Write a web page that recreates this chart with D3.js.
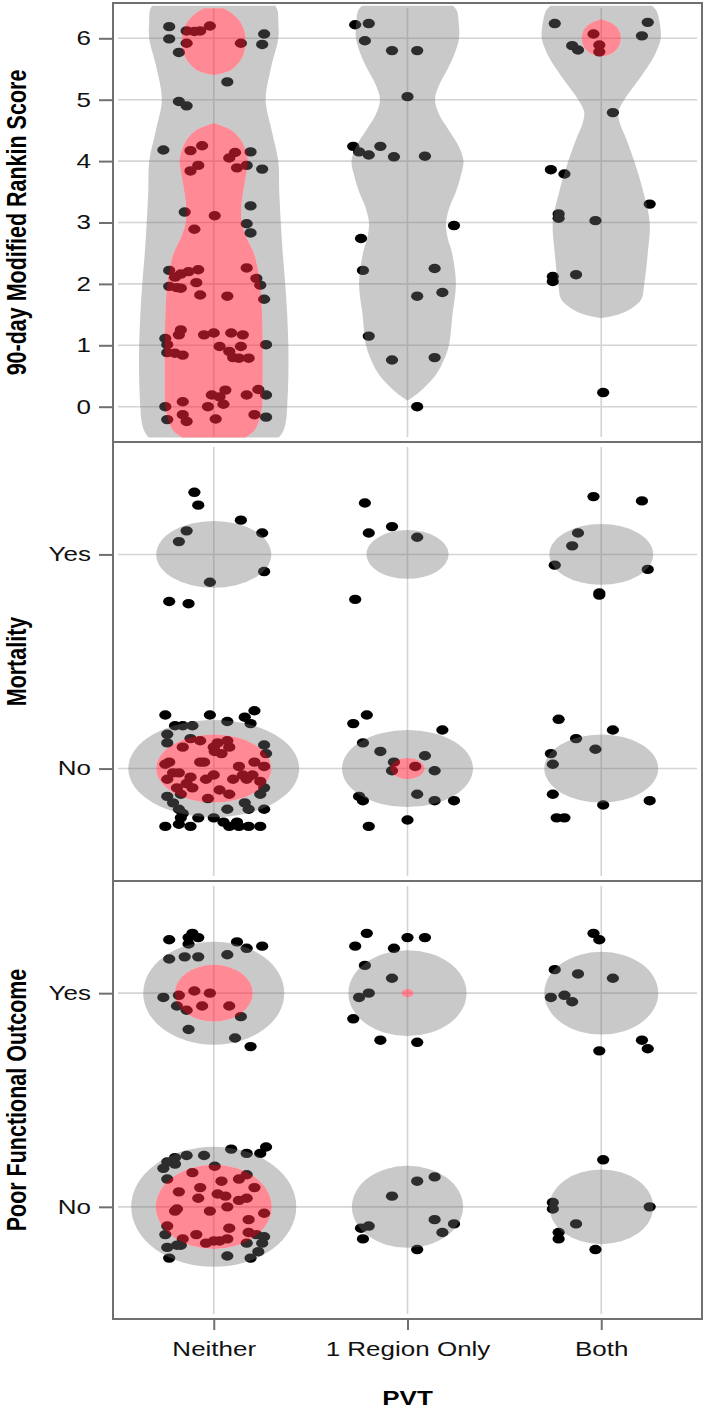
<!DOCTYPE html>
<html>
<head>
<meta charset="utf-8">
<script src="https://cdn.jsdelivr.net/npm/d3@7"></script>
<style>
  body { margin: 0; background: #fff; }
  text { font-family: "Liberation Sans", Arial, Helvetica, sans-serif; }
</style>
</head>
<body>
<div id="chart"></div>
<script>
const categories = ['Neither', '1 Region Only', 'Both'];
const rankinTicks = [0, 1, 2, 3, 4, 5, 6];
const binaryTicks = [0, 1];
const binaryLabels = ['No', 'Yes'];
const panelTitles = ['90-day Modified Rankin Score', 'Mortality', 'Poor Functional Outcome'];
const xTitle = 'PVT';

// violin outlines: [score, half width in category units]
const grayNeither = [[6.53,0.318],[6.45,0.330],[6.3,0.333],[6.0,0.333],[5.5,0.294],[5.0,0.268],[4.5,0.299],[4.0,0.333],[3.5,0.338],
  [3.0,0.346],[2.5,0.356],[2.0,0.369],[1.5,0.379],[1.0,0.385],[0.5,0.385],[0.0,0.379],[-0.25,0.372],[-0.42,0.355],[-0.5,0.335]];
const grayRegion = [[6.53,0.235],[6.45,0.255],[6.3,0.263],[6.0,0.266],[5.75,0.243],[5.5,0.207],[5.25,0.165],[5.0,0.142],[4.75,0.165],
  [4.5,0.214],[4.25,0.263],[4.0,0.289],[3.75,0.274],[3.5,0.250],[3.25,0.217],[3.0,0.199],[2.75,0.207],[2.5,0.230],
  [2.0,0.250],[1.5,0.232],[1.0,0.214],[0.75,0.186],[0.5,0.142],[0.3,0.083],[0.2,0.046],[0.1,0]];
const grayBoth = [[6.53,0.262],[6.45,0.285],[6.3,0.299],[6.0,0.307],[5.75,0.279],[5.5,0.232],[5.25,0.176],[5.0,0.119],[4.8,0.088],
  [4.6,0.098],[4.4,0.124],[4.0,0.170],[3.5,0.217],[3.0,0.250],[2.5,0.240],[2.0,0.222],[1.75,0.207],[1.6,0.155],[1.5,0.088],[1.44,0]];
const redNeitherTop = [[6.49,0.052],[6.42,0.088],[6.3,0.129],[6.15,0.155],[5.95,0.165],[5.75,0.155],[5.6,0.129],[5.48,0.088],[5.4,0]];
const redNeitherLow = [[4.62,0],[4.5,0.093],[4.35,0.139],[4.15,0.168],[4.0,0.176],[3.75,0.165],[3.5,0.152],[3.25,0.142],
  [3.0,0.145],[2.75,0.170],[2.5,0.207],[2.25,0.227],[2.0,0.240],[1.5,0.250],[1.0,0.253],[0.5,0.253],[0.0,0.250],
  [-0.25,0.232],[-0.4,0.207],[-0.5,0.165]];
const redBoth = [[6.31,0],[6.25,0.052],[6.15,0.088],[6.0,0.101],[5.85,0.088],[5.75,0.052],[5.7,0]];

// ellipses: [category, value, half width, half height]
const mortalityGray = [[0,1,0.297,0.156],[0,0,0.441,0.227],[1,1,0.212,0.114],[1,0,0.338,0.180],[2,1,0.268,0.142],[2,0,0.294,0.159]];
const mortalityRed = [[0,0,0.297,0.159],[1,0,0.088,0.049]];
const outcomeGray = [[0,1,0.364,0.241],[0,0,0.426,0.281],[1,1,0.305,0.201],[1,0,0.287,0.192],[2,1,0.294,0.194],[2,0,0.268,0.175]];
const outcomeRed = [[0,1,0.201,0.133],[0,0,0.299,0.197],[1,1,0.031,0.019]];

// jittered points: [category position, value]
const rankinDots = [
  [-0.23,6.19],[-0.23,5.99],[-0.18,5.77],[-0.14,6.12],[-0.10,6.11],[-0.07,6.12],[-0.02,6.20],[-0.14,5.92],[0.14,5.92],
  [0.07,5.29],[0.26,6.07],[0.25,5.90],[-0.18,4.97],[-0.14,4.90],
  [-0.26,4.18],[-0.12,4.17],[-0.06,4.25],[-0.12,3.84],[-0.08,3.93],[0.08,4.05],[0.11,4.14],[0.12,3.89],[0.17,3.93],[0.19,4.15],[0.25,3.87],
  [-0.15,3.17],[0.005,3.11],[-0.10,2.89],[0.17,2.98],[0.19,3.27],[0.19,2.83],
  [-0.23,2.22],[-0.20,2.11],[-0.17,2.16],[-0.13,2.20],[-0.08,2.23],[-0.23,1.96],[-0.19,1.94],[-0.17,1.93],[-0.09,2.02],
  [-0.07,1.82],[0.07,1.80],[0.17,2.26],[0.22,2.09],[0.24,1.98],[0.26,1.75],
  [-0.25,1.11],[-0.24,1.01],[-0.24,0.88],[-0.17,1.25],[-0.18,1.17],[-0.05,1.17],[0,1.20],[0.03,0.98],[0.09,1.20],[0.15,1.17],
  [0.14,0.98],[0.08,0.90],[0.10,0.80],[0.13,0.79],[0.18,0.79],[-0.20,0.87],[-0.16,0.84],[0.27,1.01],
  [-0.25,0],[-0.24,-0.21],[-0.16,0.08],[-0.16,-0.13],[-0.14,-0.24],[-0.03,0],[0.01,-0.20],[-0.01,0.19],[0.03,0.16],
  [0.06,0.27],[0.05,0.04],[0.17,0.19],[0.23,0.28],[0.21,-0.13],[0.27,0.19],[0.27,-0.17],
  [0.73,6.22],[0.80,6.24],[0.78,5.96],[0.92,5.80],[1.05,5.80],[1.00,5.05],[0.72,4.24],[0.75,4.15],[0.80,4.10],[0.86,4.24],
  [0.93,4.07],[1.09,4.08],[1.24,2.95],[0.76,2.74],[0.77,2.22],[1.14,2.25],[1.05,1.80],[1.18,1.86],[0.80,1.15],[0.92,0.76],
  [1.14,0.80],[1.05,0.00],
  [1.76,6.24],[2.24,6.26],[2.21,6.04],[1.96,6.07],[1.99,5.89],[1.99,5.78],[1.85,5.88],[1.88,5.81],[2.06,4.79],[1.74,3.86],
  [1.81,3.79],[2.25,3.30],[1.78,3.14],[1.78,3.07],[1.97,3.03],[1.75,2.12],[1.75,2.04],[1.87,2.15],[2.01,0.23]
];
const mortalityDots = [
  [-0.10,1.29],[-0.08,1.23],[0.14,1.16],[-0.14,1.11],[-0.18,1.06],[0.25,1.10],[0.26,0.92],[-0.02,0.87],[-0.23,0.78],[-0.13,0.77],
  [-0.25,0.25],[-0.02,0.25],[0.21,0.27],[0.16,0.24],[0.07,0.22],[-0.20,0.20],[-0.16,0.20],[-0.11,0.20],
  [-0.24,0.16],[-0.24,0.12],[0.19,0.21],[0.26,0.11],[0.27,0.07],
  [-0.23,0.03],[-0.25,0.02],[-0.21,-0.02],[-0.18,-0.02],[-0.24,-0.05],[-0.19,-0.09],[-0.14,-0.07],[-0.12,0.14],[-0.07,0.13],
  [-0.16,0.10],[-0.07,0.03],[-0.05,0.03],[0,0.10],[0.02,0.12],[0.07,0.13],[0.08,0.10],[0.04,0.07],[0.005,0.08],[0,-0.03],
  [0.03,-0.10],[0.08,-0.12],[0.13,0.01],[0.15,-0.03],[0.17,-0.05],[0.21,0.03],[0.20,-0.03],[0.26,0.01],[0.24,-0.06],
  [-0.03,-0.14],[-0.11,-0.09],[-0.17,-0.12],[0.10,-0.05],[-0.04,-0.05],[-0.12,-0.04],
  [-0.24,-0.13],[-0.21,-0.16],[-0.18,-0.19],[-0.16,-0.21],[-0.17,-0.23],[-0.08,-0.23],[0,-0.23],[0.07,-0.19],[0.16,-0.16],
  [0.18,-0.19],[0.26,-0.19],[0.26,-0.09],[0.24,-0.12],
  [-0.25,-0.27],[-0.18,-0.26],[-0.12,-0.27],[0.05,-0.25],[0.08,-0.27],[0.12,-0.25],[0.13,-0.27],[0.18,-0.27],[0.24,-0.27],
  [0.78,1.24],[0.80,1.10],[0.92,1.13],[1.05,1.08],[0.73,0.79],
  [0.72,0.21],[0.79,0.25],[1.18,0.18],[0.77,0.12],[0.86,0.08],[0.93,0.03],[0.92,-0.01],[1.04,0.01],[1.09,0.06],[1.14,-0.01],
  [0.75,-0.13],[0.77,-0.15],[1.05,-0.12],[1.14,-0.15],[1.24,-0.15],[1.00,-0.24],[0.80,-0.27],
  [1.96,1.27],[2.21,1.25],[1.88,1.10],[1.85,1.04],[1.76,0.95],[2.24,0.93],[1.99,0.82],[1.99,0.81],
  [1.78,0.23],[2.06,0.18],[1.87,0.14],[1.97,0.09],[1.74,0.07],[1.75,0.02],[1.75,-0.12],[2.25,-0.15],[2.01,-0.17],[1.77,-0.23],[1.81,-0.23]
];
const outcomeDots = [
  [-0.23,1.25],[-0.13,1.26],[-0.11,1.28],[-0.08,1.26],[-0.13,1.23],[0.12,1.24],[0.17,1.21],[0.25,1.22],[-0.23,1.16],[-0.15,1.17],
  [-0.08,1.17],[0.07,1.18],[-0.26,0.98],[-0.18,0.99],[-0.10,1.01],[-0.02,1.00],[-0.06,0.94],[0.08,0.94],[-0.19,0.94],[-0.14,0.92],
  [0.14,0.89],[-0.13,0.83],[0.11,0.79],[0.19,0.75],
  [-0.24,0.21],[-0.20,0.23],[-0.14,0.24],[-0.05,0.24],[0.09,0.27],[0.17,0.25],[0.24,0.25],[0.27,0.28],[-0.26,0.18],[-0.24,0.13],[-0.20,0.20],
  [-0.11,0.16],[0.005,0.19],[-0.18,0.07],[-0.07,0.09],[0.04,0.12],[0.13,0.13],[0.17,0.15],[0.21,0.09],[0.02,0.06],[0.06,0.05],
  [-0.08,0.04],[0.13,0.03],[0.17,0.04],[-0.19,-0.01],[-0.20,-0.02],[-0.02,-0.02],[0.07,0],[0.26,-0.03],[0.18,-0.06],[-0.24,-0.09],
  [0.08,-0.10],[-0.16,-0.15],[-0.09,-0.13],[-0.04,-0.17],[0,-0.16],[0.03,-0.16],[0.07,-0.15],[0.18,-0.12],
  [-0.25,-0.13],[-0.24,-0.19],[-0.19,-0.18],[-0.17,-0.18],[0.17,-0.17],[0.22,-0.13],[0.26,-0.14],[0.25,-0.17],[0.23,-0.21],
  [0.19,-0.24],[0.07,-0.23],[-0.23,-0.24],
  [0.79,1.28],[0.73,1.22],[1.00,1.26],[1.09,1.26],[0.93,1.21],[0.78,1.13],[0.92,1.07],[0.80,1.00],[0.75,0.98],[0.72,0.88],[0.86,0.78],[1.05,0.77],
  [1.14,0.14],[1.05,0.12],[0.92,0.05],[1.14,-0.06],[1.24,-0.08],[1.18,-0.12],[0.80,-0.09],[0.76,-0.10],[0.77,-0.15],[1.05,-0.20],
  [1.96,1.28],[1.99,1.25],[1.76,1.11],[1.88,1.09],[2.06,1.07],[1.74,0.98],[1.81,0.99],[1.85,0.96],[2.21,0.78],[2.24,0.74],[1.99,0.73],
  [2.01,0.22],[1.75,0.02],[1.75,-0.01],[2.25,0],[1.87,-0.08],[1.78,-0.12],[1.78,-0.15],[1.97,-0.20]
];

// the picture is stretched horizontally, so text and dots are too
const stretch = 1.3;
const left = 113, right = 702;
const gridColor = '#d4d4d4';
const axisColor = '#707070';

const svg = d3.select('#chart').append('svg')
  .attr('width', 705)
  .attr('height', 1408);

const x = d3.scaleLinear().domain([-0.52, 2.52]).range([left, right]);

const panels = [
  { top: 3, bottom: 442, y: d3.scaleLinear().domain([-0.575, 6.575]).range([442, 3]),
    ticks: rankinTicks, fmt: d => d, dots: rankinDots, title: panelTitles[0],
    grayViolins: [[0, grayNeither], [1, grayRegion], [2, grayBoth]],
    redViolins: [[0, redNeitherTop], [0, redNeitherLow], [2, redBoth]],
    grayEllipses: [], redEllipses: [] },
  { top: 442, bottom: 881, y: d3.scaleLinear().domain([-0.525, 1.525]).range([881, 442]),
    ticks: binaryTicks, fmt: d => binaryLabels[d], dots: mortalityDots, title: panelTitles[1],
    grayViolins: [], redViolins: [], grayEllipses: mortalityGray, redEllipses: mortalityRed },
  { top: 881, bottom: 1319, y: d3.scaleLinear().domain([-0.525, 1.525]).range([1319, 881]),
    ticks: binaryTicks, fmt: d => binaryLabels[d], dots: outcomeDots, title: panelTitles[2],
    grayViolins: [], redViolins: [], grayEllipses: outcomeGray, redEllipses: outcomeRed }
];

function violinPath(cat, pts, y) {
  return d3.area()
    .curve(d3.curveCatmullRom)
    .y(d => y(d[0]))
    .x0(d => x(cat - d[1]))
    .x1(d => x(cat + d[1]))(pts);
}

function drawShapes(g, p, violins, ellipses) {
  violins.forEach(([cat, pts]) => {
    g.append('path').attr('d', violinPath(cat, pts, p.y));
  });
  g.selectAll(null)
    .data(ellipses)
    .enter()
    .append('ellipse')
      .attr('cx', d => x(d[0]))
      .attr('cy', d => p.y(d[1]))
      .attr('rx', d => x(d[0] + d[2]) - x(d[0]))
      .attr('ry', d => p.y(d[1]) - p.y(d[1] + d[3]));
}

// mask so the gray shapes are cut away under the red ones
const mask = svg.append('defs').append('mask')
  .attr('id', 'knock')
  .attr('maskUnits', 'userSpaceOnUse')
  .attr('x', 0).attr('y', 0).attr('width', 705).attr('height', 1408);
mask.append('rect').attr('width', 705).attr('height', 1408).attr('fill', '#fff');
const maskG = mask.append('g').attr('fill', '#000');
panels.forEach(p => drawShapes(maskG, p, p.redViolins, p.redEllipses));

// gridlines
panels.forEach(p => {
  const grid = svg.append('g').attr('stroke', gridColor).attr('stroke-width', 1.6);
  grid.selectAll(null)
    .data(p.ticks)
    .enter()
    .append('line')
      .attr('x1', left + 5).attr('x2', right - 5)
      .attr('y1', d => p.y(d)).attr('y2', d => p.y(d));
  grid.selectAll(null)
    .data(categories.map((c, i) => i))
    .enter()
    .append('line')
      .attr('x1', d => x(d)).attr('x2', d => x(d))
      .attr('y1', p.top + 5).attr('y2', p.bottom - 5);
});

// points
panels.forEach(p => {
  svg.append('g')
    .selectAll('ellipse')
    .data(p.dots)
    .enter()
    .append('ellipse')
      .attr('cx', d => x(d[0]))
      .attr('cy', d => p.y(d[1]))
      .attr('rx', 4.7 * stretch)
      .attr('ry', 4.7)
      .attr('fill', '#000');
});

// gray and red densities over the points
const grayLayer = svg.append('g')
  .attr('mask', 'url(#knock)')
  .attr('fill', '#737373')
  .attr('fill-opacity', 0.39);
const redLayer = svg.append('g')
  .attr('fill', '#ff273d')
  .attr('fill-opacity', 0.54);
panels.forEach(p => {
  drawShapes(grayLayer, p, p.grayViolins, p.grayEllipses);
  drawShapes(redLayer, p, p.redViolins, p.redEllipses);
});

// panel frames, axes and titles
panels.forEach(p => {
  svg.append('rect')
    .attr('x', left).attr('y', p.top)
    .attr('width', right - left).attr('height', p.bottom - p.top)
    .attr('fill', 'none')
    .attr('stroke', axisColor)
    .attr('stroke-width', 2);

  const ay = svg.append('g')
    .attr('transform', `translate(${left},0)`)
    .call(d3.axisLeft(p.y).tickValues(p.ticks).tickFormat(p.fmt).tickSize(14).tickPadding(0));
  ay.select('.domain').remove();
  ay.selectAll('.tick line').attr('stroke', axisColor).attr('stroke-width', 2);
  ay.selectAll('.tick text')
    .attr('x', -22 / stretch)
    .attr('transform', `scale(${stretch},1)`)
    .attr('font-family', '"Liberation Sans", Arial, Helvetica, sans-serif')
    .attr('font-size', 20)
    .attr('fill', '#111');

  svg.append('text')
    .attr('transform', `translate(25.5,${(p.top + p.bottom) / 2}) scale(${stretch},1) rotate(-90)`)
    .attr('text-anchor', 'middle')
    .attr('font-weight', 'bold')
    .attr('font-size', 21.5)
    .attr('fill', '#000')
    .text(p.title);
});

const ax = svg.append('g')
  .attr('transform', `translate(0,${panels[2].bottom})`)
  .call(d3.axisBottom(x).tickValues(categories.map((c, i) => i)).tickFormat(i => categories[i]).tickSize(11).tickPadding(11.8));
ax.select('.domain').remove();
ax.selectAll('.tick line').attr('stroke', axisColor).attr('stroke-width', 2);
ax.selectAll('.tick text')
  .attr('transform', `scale(${stretch},1)`)
  .attr('font-family', '"Liberation Sans", Arial, Helvetica, sans-serif')
  .attr('font-size', 20)
  .attr('fill', '#111');

svg.append('text')
  .attr('transform', `translate(${(left + right) / 2},1405) scale(${stretch},1)`)
  .attr('text-anchor', 'middle')
  .attr('font-weight', 'bold')
  .attr('font-size', 20)
  .attr('fill', '#000')
  .text(xTitle);
</script>
</body>
</html>
